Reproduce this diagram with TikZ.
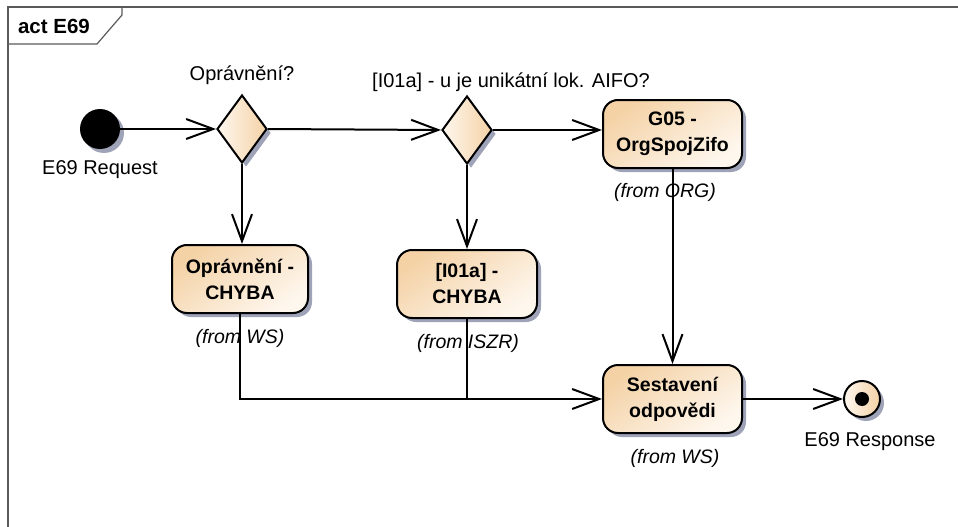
\documentclass[tikz,border=0pt]{standalone}
\usepackage{fontspec}
\setmainfont{Liberation Sans}
\usetikzlibrary{shapes.geometric,arrows.meta,shadows}
\definecolor{boxdark}{RGB}{244,210,166}
\definecolor{boxlight}{RGB}{254,247,238}
\definecolor{shadowcol}{RGB}{158,163,183}
\definecolor{framecol}{RGB}{90,90,90}
\tikzset{
  lbl/.style={font=\fontsize{20}{24}\selectfont, inner sep=0pt},
  fromlbl/.style={font=\fontsize{19.5}{23}\selectfont\itshape, inner sep=0pt},
  shad/.style={drop shadow={shadow xshift=4pt, shadow yshift=-4pt, fill=shadowcol, opacity=1}},
  actbox/.style={rectangle, draw, line width=2pt, rounded corners=15pt,
    minimum width=139pt, minimum height=68pt, inner sep=0pt,
    top color=boxdark, bottom color=boxlight, shading angle=35,
    align=center, font=\fontsize{19.5}{26}\selectfont\bfseries, shad},
  dec/.style={diamond, draw, line width=2pt, minimum width=50pt, minimum height=68pt,
    inner sep=0pt, left color=boxlight, right color=boxdark, shad},
  flow/.style={line width=2pt, -{Straight Barb[length=27pt,width=20pt,line width=2pt]}},
  plainline/.style={line width=2pt}
}
\begin{document}
\begin{tikzpicture}[x=1pt,y=-1pt]
\useasboundingbox (0,0) rectangle (958,527);
% frame
\draw[framecol, line width=1.8pt] (8,527) -- (8,7) -- (958,7);
\draw[framecol, line width=1.2pt] (8,44) -- (97,44) -- (122,15) -- (122,7);
\node[font=\fontsize{20.5}{24}\selectfont\bfseries, inner sep=0pt] (title) at (54,26) {act E69};

% nodes
\node[circle, fill=black, minimum size=40pt, inner sep=0pt, shad] (start) at (100,129) {};
\node[lbl] (startlbl) at (100,170) {E69 Request};

\node[dec] (d1) at (242,129) {};
\node[lbl] (d1lbl) at (242,75) {Oprávnění?};

\node[dec] (d2) at (467,130) {};
\node[lbl] (d2lbl) at (511,82) {[I01a] - u je unikátní lok. AIFO?};

\node[actbox] (g05) at (672.5,134) {G05 -\\OrgSpojZifo};
\node[fromlbl] (g05from) at (665,192) {(from ORG)};

\node[actbox, minimum width=136pt] (op) at (240,279) {Oprávnění -\\CHYBA};
\node[fromlbl] (opfrom) at (240,338) {(from WS)};

\node[actbox, minimum width=140pt] (i01) at (467,284) {[I01a] -\\CHYBA};
\node[fromlbl] (i01from) at (468,343) {(from ISZR)};

\node[actbox] (ses) at (672.5,399) {Sestavení\\odpovědi};
\node[fromlbl] (sesfrom) at (675,458) {(from WS)};

\node[circle, draw, line width=2pt, minimum size=36pt, inner sep=0pt,
      left color=boxlight, right color=boxdark, shad] (end) at (862,399) {};
\node[circle, fill=black, minimum size=14pt, inner sep=0pt] (enddot) at (end.center) {};
\node[lbl] (endlbl) at (870,442) {E69 Response};

% connectors
\draw[flow] (start) -- (d1.west);
\draw[flow] (d1.east) -- (d2.west);
\draw[flow] (d2.east) -- (d2.east -| g05.west);
\draw[flow] (d1.south) -- (d1.south |- op.north);
\draw[flow] (d2.south) -- (d2.south |- i01.north);
\draw[flow] (g05.south) -- (ses.north);
\draw[flow] (op.south) |- (ses.west);
\draw[plainline] (i01.south) -- (i01.south |- ses.west);
\draw[flow] (ses.east) -- (end.west);
\end{tikzpicture}
\end{document}
